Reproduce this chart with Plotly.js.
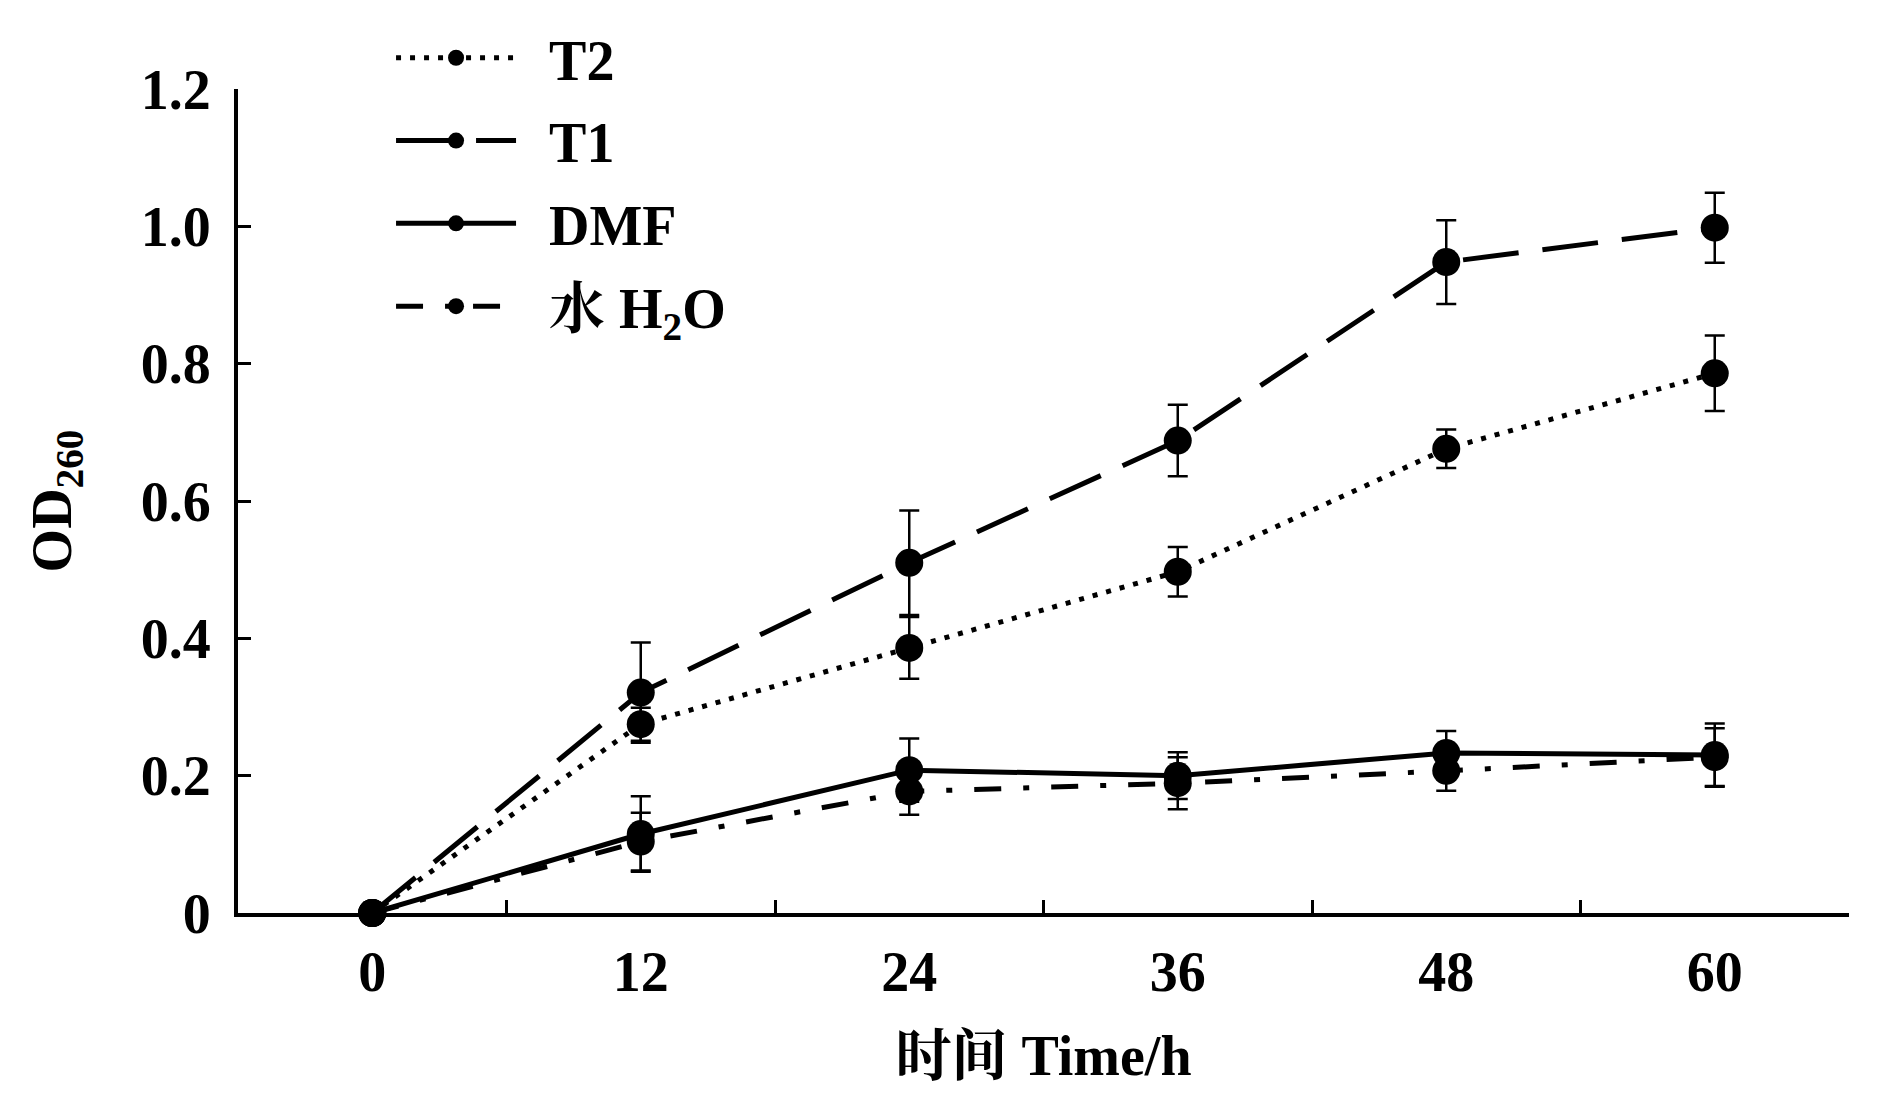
<!DOCTYPE html>
<html>
<head>
<meta charset="utf-8">
<script src="https://cdn.plot.ly/plotly-3.0.1.min.js"></script>
<style>
html,body{margin:0;padding:0;background:#fff;}
#chart{width:1890px;height:1099px;}
</style>
</head>
<body>
<div id="chart"></div>
<script>
// ---- data ----
const timeLabels = ["0", "12", "24", "36", "48", "60"];
const seriesNames = ["T2", "T1", "DMF", "水 H<sub>2</sub>O"];

const t2Values  = [0, 0.275, 0.386, 0.497, 0.676, 0.786];
const t2Errors  = [0, 0.024, 0.045, 0.036, 0.028, 0.055];

const t1Values  = [0, 0.321, 0.510, 0.688, 0.948, 0.998];
const t1Errors  = [0, 0.073, 0.076, 0.052, 0.061, 0.051];

const dmfValues = [0, 0.115, 0.208, 0.200, 0.233, 0.230];
const dmfErrors = [0, 0.055, 0.046, 0.034, 0.032, 0.046];

const h2oValues = [0, 0.104, 0.177, 0.189, 0.207, 0.227];
const h2oErrors = [0, 0.042, 0.034, 0.038, 0.029, 0.042];

const yTickVals = [0, 0.2, 0.4, 0.6, 0.8, 1.0, 1.2];
const yTickText = ["0", "0.2", "0.4", "0.6", "0.8", "1.0", "1.2"];

// ---- styles ----
const FONT = "'Liberation Serif', 'Times New Roman', 'Noto Serif CJK SC', 'Noto Sans CJK SC', serif";
const LW = 5;
const MS = 28;
const PAD = "\u00a0\u00a0";

function makeTrace(name, y, err, dash, group) {
  return {
    type: "scatter",
    mode: "lines+markers",
    name: PAD + name,
    legendgroup: group,
    x: timeLabels,
    y: y,
    cliponaxis: false,
    line: { color: "#000", width: LW, dash: dash },
    marker: { color: "#000", size: MS, symbol: "circle" },
    error_y: { type: "data", array: err, visible: true, color: "#000", thickness: 2.5, width: 10 }
  };
}

const traces = [
  makeTrace(seriesNames[0], t2Values, t2Errors, "5px,9px", "g1"),
  makeTrace(seriesNames[1], t1Values, t1Errors, "56px,24px", "g2"),
  makeTrace(seriesNames[2], dmfValues, dmfErrors, "solid", "g3"),
  makeTrace(seriesNames[3], h2oValues, h2oErrors, "27px,22px,6px,22px", "g4")
];

const layout = {
  width: 1890,
  height: 1099,
  paper_bgcolor: "#fff",
  plot_bgcolor: "#fff",
  margin: { l: 238, r: 41, t: 89, b: 186, pad: 0 },
  font: { family: FONT, size: 56, color: "#000", weight: 700 },
  showlegend: true,
  legend: {
    x: 0.095, xanchor: "left",
    y: 1.09, yanchor: "top",
    traceorder: "grouped",
    tracegroupgap: 7,
    itemwidth: 120,
    bgcolor: "rgba(0,0,0,0)",
    font: { family: FONT, size: 56, color: "#000", weight: 700 }
  },
  xaxis: {
    type: "category",
    range: [-0.5, 5.5],
    tickson: "boundaries",
    ticks: "inside",
    ticklen: 13,
    tickwidth: 3,
    tickcolor: "#000",
    showline: true,
    linecolor: "#000",
    linewidth: 4,
    showgrid: false,
    zeroline: false,
    ticklabelstandoff: 7,
    tickfont: { family: FONT, size: 56, color: "#000", weight: 700 },
    automargin: false,
    title: {
      text: "时间 Time/h",
      standoff: 35,
      font: { family: FONT, size: 56, color: "#000", weight: 700 }
    }
  },
  yaxis: {
    range: [0, 1.2],
    tickvals: yTickVals,
    ticktext: yTickText,
    ticks: "inside",
    ticklen: 13,
    tickwidth: 3,
    tickcolor: "#000",
    showline: true,
    linecolor: "#000",
    linewidth: 4,
    showgrid: false,
    zeroline: false,
    ticklabelstandoff: 12,
    tickfont: { family: FONT, size: 56, color: "#000", weight: 700 },
    automargin: false,
    title: {
      text: "OD<sub>260</sub>",
      standoff: 52,
      font: { family: FONT, size: 56, color: "#000", weight: 700 }
    }
  }
};

Plotly.newPlot("chart", traces, layout, { staticPlot: true, displayModeBar: false });
</script>
</body>
</html>
